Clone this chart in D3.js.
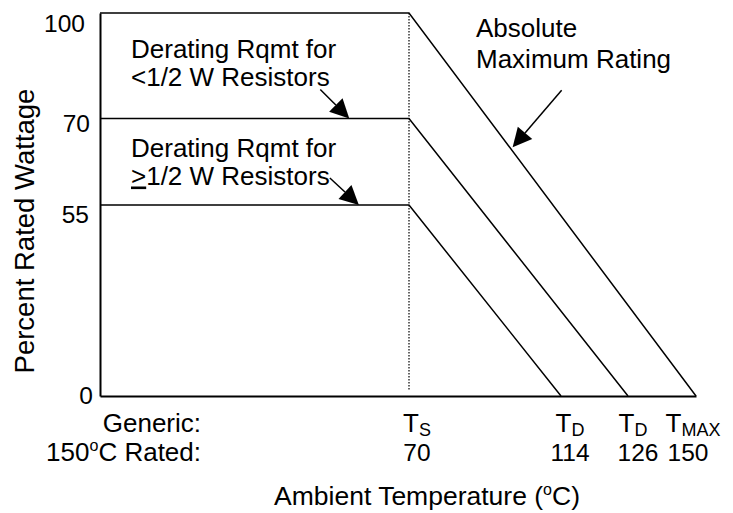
<!DOCTYPE html>
<html>
<head>
<meta charset="utf-8">
<script src="https://cdn.jsdelivr.net/npm/d3@7"></script>
<style>
body { margin: 0; background: #fff; }
text { font-family: "Liberation Sans", Arial, sans-serif; fill: #000; }
</style>
</head>
<body>
<div id="chart"></div>
<script>
// breakpoints of the (schematic, not to scale) axes
var tempStops = [25, 70, 114, 126, 150];
var pctStops = [0, 55, 70, 100];

// derating curves: temperature (C) -> percent rated wattage
var absMax = [{t: 25, p: 100}, {t: 70, p: 100}, {t: 150, p: 0}];
var smallRes = [{t: 25, p: 70}, {t: 70, p: 70}, {t: 126, p: 0}];
var largeRes = [{t: 25, p: 55}, {t: 70, p: 55}, {t: 114, p: 0}];

var yTicks = [0, 55, 70, 100];
var xTicks = [70, 114, 126, 150];
var xSubs = ["S", "D", "D", "MAX"];
var xTickLabels = ["70", "114", "126", "150"];

var notes = [
  {lines: ["Derating Rqmt for", "<1/2 W Resistors"], tip: {t: 61.3, p: 70}},
  {lines: ["Derating Rqmt for", ">1/2 W Resistors"], tip: {t: 62.7, p: 55}},
  {lines: ["Absolute", "Maximum Rating"], tip: {t: 100, p: 65}}
];

// layout
var W = 733, H = 513;
var xRange = [100, 409, 561, 628, 696];
var yRange = [396, 205, 118.5, 13];
var yLabelNudge = {0: [3, 7], 55: [-1, 17], 70: [0, 13], 100: [-5, 18]};
var symNudge = [8, 9, 5, -3];
var numNudge = [8, 9, 10, -8];
var noteLayout = [
  {x: 131, y: 58, lh: 28, tail: [-29, -29]},
  {x: 131, y: 157, lh: 27.5, tail: [-29, -27]},
  {x: 476, y: 37, lh: 31, tail: [49, -57]}
];
var wordSize = 26, numSize = 24.5;

var svg = d3.select("#chart").append("svg")
  .attr("width", W)
  .attr("height", H);

svg.append("rect").attr("width", W).attr("height", H).attr("fill", "#fff");

var x = d3.scaleLinear().domain(tempStops).range(xRange);
var y = d3.scaleLinear().domain(pctStops).range(yRange);

// left axis
var yAxis = svg.append("g")
  .attr("transform", "translate(" + x(25) + ",0)")
  .call(d3.axisLeft(y).tickValues(yTicks).tickSize(0).tickSizeOuter(0).tickPadding(10));
yAxis.select(".domain").attr("stroke", "#000").attr("stroke-width", 2);
yAxis.selectAll("text")
  .attr("font-family", null)
  .style("font-size", numSize + "px")
  .attr("dy", null)
  .attr("transform", function(d){
    return "translate(" + yLabelNudge[d][0] + "," + yLabelNudge[d][1] + ")";
  });

// bottom axis (line only, labels drawn below)
var xAxis = svg.append("g")
  .attr("transform", "translate(0," + y(0) + ")")
  .call(d3.axisBottom(x).tickValues([]).tickSizeOuter(0));
xAxis.select(".domain").attr("stroke", "#000").attr("stroke-width", 2);

// dotted line at T_S
svg.append("line")
  .attr("x1", x(70)).attr("x2", x(70))
  .attr("y1", y(100)).attr("y2", y(0) - 5)
  .attr("stroke", "#000")
  .attr("stroke-width", 1.2)
  .attr("stroke-dasharray", "1.5,1.5");

var line = d3.line()
  .x(function(d){ return x(d.t); })
  .y(function(d){ return y(d.p); });

svg.selectAll(".curve")
  .data([absMax, smallRes, largeRes])
  .enter().append("path")
  .attr("class", "curve")
  .attr("d", line)
  .attr("fill", "none")
  .attr("stroke", "#000")
  .attr("stroke-width", 1.5);

// x tick labels: two rows
var tickG = svg.selectAll(".xtick")
  .data(xTicks)
  .enter().append("g")
  .attr("class", "xtick");

var sym = tickG.append("text")
  .attr("x", function(d, i){ return x(d) + symNudge[i]; })
  .attr("y", 432)
  .attr("text-anchor", "middle")
  .style("font-size", wordSize + "px");
sym.append("tspan").text("T");
sym.append("tspan")
  .style("font-size", "18px")
  .attr("dy", 4)
  .text(function(d, i){ return xSubs[i]; });

tickG.append("text")
  .attr("x", function(d, i){ return x(d) + numNudge[i]; })
  .attr("y", 461)
  .attr("text-anchor", "middle")
  .style("font-size", numSize + "px")
  .text(function(d, i){ return xTickLabels[i]; });

svg.append("text")
  .attr("x", 201).attr("y", 432)
  .attr("text-anchor", "end")
  .style("font-size", wordSize + "px")
  .text("Generic:");

var rated = svg.append("text")
  .attr("x", 201).attr("y", 461)
  .attr("text-anchor", "end")
  .style("font-size", wordSize + "px");
rated.append("tspan").text("150");
rated.append("tspan").attr("dy", -10).style("font-size", "16px").text("o");
rated.append("tspan").attr("dy", 10).text("C Rated:");

// axis titles
var xt = svg.append("text")
  .attr("x", 427).attr("y", 505)
  .attr("text-anchor", "middle")
  .style("font-size", "26.5px");
xt.append("tspan").text("Ambient Temperature (");
xt.append("tspan").attr("dy", -10).style("font-size", "16px").text("o");
xt.append("tspan").attr("dy", 10).text("C)");

svg.append("text")
  .attr("transform", "translate(34,231) rotate(-90)")
  .attr("text-anchor", "middle")
  .style("font-size", "27.5px")
  .text("Percent Rated Wattage");

// annotations with arrows, one text element per line
notes.forEach(function(n, i){
  var L = noteLayout[i];
  n.lines.forEach(function(s, j){
    var t = svg.append("text")
      .attr("x", L.x).attr("y", L.y + j * L.lh)
      .style("font-size", wordSize + "px");
    if (s.charAt(0) == ">") {
      t.append("tspan").style("text-decoration", "underline").text(">");
      t.append("tspan").text(s.slice(1));
    } else {
      t.text(s);
    }
  });

  var tx = x(n.tip.t), ty = y(n.tip.p);
  var sx = tx + L.tail[0], sy = ty + L.tail[1];
  var len = Math.sqrt((tx - sx) * (tx - sx) + (ty - sy) * (ty - sy));
  var ux = (tx - sx) / len, uy = (ty - sy) / len;
  var bx = tx - ux * 19, by = ty - uy * 19;
  svg.append("line")
    .attr("x1", sx).attr("y1", sy).attr("x2", bx).attr("y2", by)
    .attr("stroke", "#000").attr("stroke-width", 1.5);
  svg.append("path")
    .attr("d", "M" + tx + "," + ty +
      "L" + (bx - uy * 9.5) + "," + (by + ux * 9.5) +
      "L" + (bx + uy * 9.5) + "," + (by - ux * 9.5) + "Z")
    .attr("fill", "#000");
});
</script>
</body>
</html>
